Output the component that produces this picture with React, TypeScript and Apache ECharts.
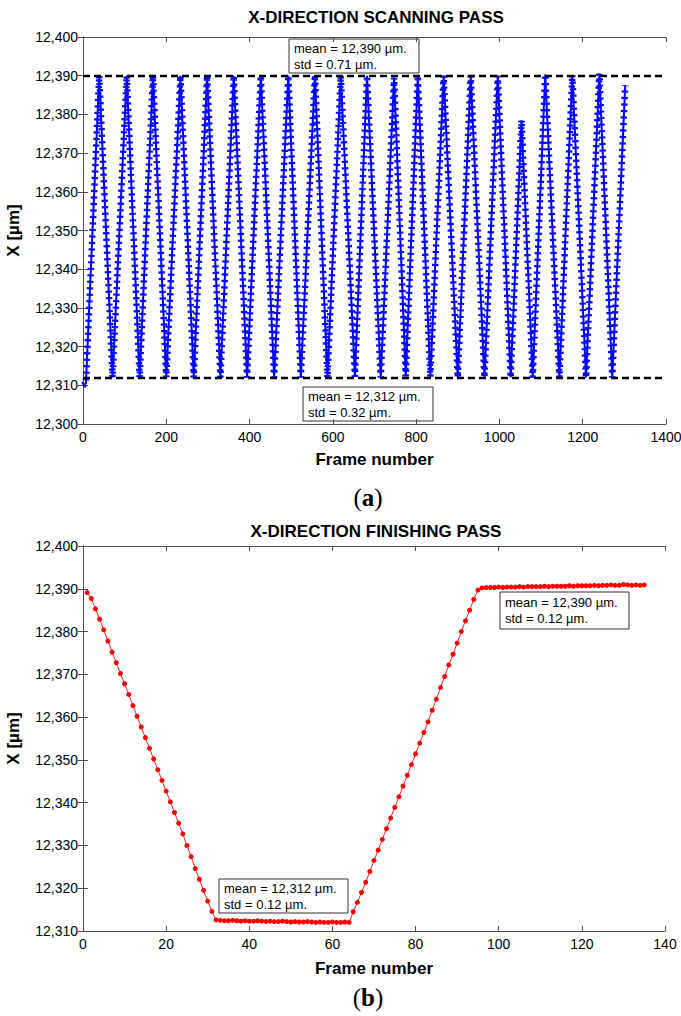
import React, { useEffect, useRef } from "react";
import * as echarts from "echarts";

// ---------- DATA ----------
// (a) scanning pass: turning points of the zig-zag trace (frame, X in µm)
const scanFrames = [
  0, 7, 39, 71, 105, 136, 168, 200, 234, 266, 298, 330, 362, 394, 427, 459,
  493, 523, 557, 587, 619, 653, 682, 715, 747, 775, 804, 834, 866, 900, 931,
  964, 996, 1027, 1053, 1080, 1110, 1144, 1175, 1208, 1240, 1271, 1302,
];
const scanValues = [
  12310, 12310.5, 12390, 12312, 12390, 12312, 12390, 12312, 12390, 12312,
  12390, 12312, 12390, 12312, 12390, 12312, 12390, 12312, 12390.2, 12312,
  12390, 12312.2, 12390, 12312, 12389.5, 12312.3, 12390, 12312.2, 12390,
  12312, 12390, 12312, 12390, 12312, 12378.5, 12312, 12390.3, 12312, 12390.2,
  12312, 12390.5, 12312, 12387.5,
];

// (b) finishing pass: one value per frame, frames 1..135
const finishValues = [
  12389.1, 12387.7, 12385.3, 12382.9, 12380.4, 12377.8, 12375.2, 12372.7,
  12370.2, 12367.8, 12365.3, 12362.7, 12360.2, 12357.7, 12355.2, 12352.7,
  12350.2, 12347.7, 12345.2, 12342.7, 12340.2, 12337.7, 12335.2, 12332.7,
  12330.0, 12327.4, 12324.6, 12322.1, 12319.5, 12317.0, 12314.6, 12312.6,
  // flat bottom 33..64
  12312.5, 12312.4, 12312.4, 12312.5, 12312.4, 12312.3, 12312.4, 12312.3,
  12312.3, 12312.4, 12312.3, 12312.2, 12312.3, 12312.2, 12312.2, 12312.3,
  12312.2, 12312.1, 12312.2, 12312.1, 12312.1, 12312.2, 12312.1, 12312.0,
  12312.1, 12312.0, 12312.0, 12312.1, 12312.0, 12312.0, 12312.1, 12312.0,
  // rising 65..95
  12314.5, 12316.7, 12319.0, 12321.4, 12323.9, 12326.5, 12328.9, 12331.4,
  12333.9, 12336.4, 12338.9, 12341.4, 12343.9, 12346.4, 12348.9, 12351.4,
  12353.9, 12356.4, 12358.9, 12361.6, 12364.2, 12366.9, 12369.5, 12372.2,
  12374.7, 12377.3, 12380.0, 12382.5, 12385.0, 12387.5, 12389.7,
  // flat top 96..135
  12390.2, 12390.3, 12390.3, 12390.3, 12390.4, 12390.3, 12390.4, 12390.4,
  12390.4, 12390.5, 12390.4, 12390.5, 12390.5, 12390.5, 12390.5, 12390.6,
  12390.5, 12390.6, 12390.6, 12390.6, 12390.6, 12390.7, 12390.6, 12390.7,
  12390.7, 12390.7, 12390.7, 12390.8, 12390.7, 12390.8, 12390.8, 12390.9,
  12390.8, 12390.8, 12391.0, 12390.9, 12390.8, 12390.9, 12390.8, 12390.9,
];

const scanMeans = [12390, 12312];
const scanTitle = "X-DIRECTION SCANNING PASS";
const finishTitle = "X-DIRECTION FINISHING PASS";
const boxTexts = {
  scanTop: ["mean = 12,390 µm.", "std = 0.71 µm."],
  scanBottom: ["mean = 12,312 µm.", "std = 0.32 µm."],
  finishTop: ["mean = 12,390 µm.", "std = 0.12 µm."],
  finishBottom: ["mean = 12,312 µm.", "std = 0.12 µm."],
};

// ---------- STYLE ----------
const FONT = "'Liberation Sans', Arial, sans-serif";
const SERIF = "'Liberation Serif', 'DejaVu Serif', serif";
const AXIS_COLOR = "#4d4d4d";

const fmtY = (v: number) => Math.round(v).toLocaleString("en-US");
const fmtX = (v: number) => String(Math.round(v));

function axesFor(
  gridIndex: number,
  xMin: number,
  xMax: number,
  xInt: number,
  yMin: number,
  yMax: number,
  yInt: number,
  xNameGap: number
) {
  const tick = { show: true, inside: true, length: 5, lineStyle: { color: AXIS_COLOR } };
  const line = { show: true, lineStyle: { color: AXIS_COLOR, width: 1 } };
  const xs = [
    {
      type: "value",
      gridIndex,
      position: "bottom",
      min: xMin,
      max: xMax,
      interval: xInt,
      axisLine: line,
      axisTick: tick,
      splitLine: { show: false },
      axisLabel: { color: "#000", fontSize: 14, fontFamily: FONT, margin: 6, formatter: fmtX },
      name: "Frame number",
      nameLocation: "middle",
      nameGap: xNameGap,
      nameTextStyle: { color: "#000", fontSize: 17, fontWeight: "bold", fontFamily: FONT },
    },
    {
      type: "value",
      gridIndex,
      position: "top",
      min: xMin,
      max: xMax,
      interval: xInt,
      axisLine: line,
      axisTick: tick,
      splitLine: { show: false },
      axisLabel: { show: false },
    },
  ];
  const ys = [
    {
      type: "value",
      gridIndex,
      position: "left",
      min: yMin,
      max: yMax,
      interval: yInt,
      axisLine: line,
      axisTick: tick,
      splitLine: { show: false },
      axisLabel: {
        color: "#000",
        fontSize: 14,
        fontFamily: FONT,
        margin: 5,
        formatter: fmtY,
      },
      name: "X [µm]",
      nameLocation: "middle",
      nameGap: 61,
      nameTextStyle: { color: "#000", fontSize: 17, fontWeight: "bold", fontFamily: FONT },
    },
    {
      type: "value",
      gridIndex,
      position: "right",
      min: yMin,
      max: yMax,
      interval: yInt,
      axisLine: line,
      axisTick: tick,
      splitLine: { show: false },
      axisLabel: { show: false },
    },
  ];
  return { xs, ys };
}

function box(x: number, y: number, w: number, h: number, lines: string[], gap: number) {
  return {
    type: "group",
    x,
    y,
    z: 100,
    children: [
      {
        type: "rect",
        shape: { x: 0, y: 0, width: w, height: h },
        style: { fill: "#fff", stroke: "#333", lineWidth: 1 },
      },
      {
        type: "text",
        x: 5,
        y: h / 2 - gap / 2,
        style: {
          text: lines[0],
          fontSize: 13,
          fontFamily: FONT,
          fill: "#000",
          textVerticalAlign: "middle",
        },
      },
      {
        type: "text",
        x: 5,
        y: h / 2 + gap / 2,
        style: {
          text: lines[1],
          fontSize: 13,
          fontFamily: FONT,
          fill: "#000",
          textVerticalAlign: "middle",
        },
      },
    ],
  };
}

function captionText(y: number, letter: string) {
  return {
    type: "text",
    x: 368,
    y,
    style: {
      text: `{p|(}{b|${letter}}{p|)}`,
      textAlign: "center",
      textVerticalAlign: "middle",
      rich: {
        p: { fontSize: 25, fontFamily: SERIF, fill: "#000" },
        b: { fontSize: 25, fontWeight: "bold", fontFamily: SERIF, fill: "#000" },
      },
    },
  };
}

export default function App() {
  const ref = useRef<HTMLDivElement>(null);

  useEffect(() => {
    if (!ref.current) return;
    const chart = echarts.init(ref.current, undefined, { renderer: "svg" });

    const a = axesFor(0, 0, 1400, 200, 12300, 12400, 10, 27);
    const b = axesFor(1, 0, 140, 20, 12310, 12400, 10, 29);

    const scanData = scanFrames.map((f, i) => [f, scanValues[i]]);
    const finishData = finishValues.map((v, i) => [i + 1, v]);

    const meanLine = (vals: number[]) => ({
      silent: true,
      symbol: ["none", "none"],
      label: { show: false },
      lineStyle: { color: "#000", type: [7, 4], width: 2.4 },
      data: vals.map((v) => ({ yAxis: v })),
    });

    chart.setOption({
      animation: false,
      backgroundColor: "#fff",
      grid: [
        { left: 83, top: 37, width: 583, height: 387, outerBoundsMode: "none", containLabel: false },
        { left: 83, top: 546, width: 582, height: 385, outerBoundsMode: "none", containLabel: false },
      ],
      xAxis: [a.xs[0], a.xs[1], b.xs[0], b.xs[1]],
      yAxis: [a.ys[0], a.ys[1], b.ys[0], b.ys[1]],
      series: [
        {
          type: "line",
          xAxisIndex: 0,
          yAxisIndex: 0,
          data: scanData,
          showSymbol: false,
          lineStyle: { color: "#0000ff", width: 2 },
        },
        {
          type: "line",
          xAxisIndex: 0,
          yAxisIndex: 0,
          data: scanData,
          showSymbol: false,
          lineStyle: { color: "#0a0aff", width: 6.5, type: [2.2, 4.3] },
          markLine: meanLine(scanMeans),
        },
        {
          type: "line",
          xAxisIndex: 2,
          yAxisIndex: 2,
          data: finishData,
          symbol: "circle",
          symbolSize: 5,
          itemStyle: { color: "#ff0000" },
          lineStyle: { color: "#ff2020", width: 1 },
        },
      ],
      graphic: [
        {
          type: "text",
          x: 376,
          y: 17,
          style: {
            text: scanTitle,
            fontSize: 17,
            fontWeight: "bold",
            fontFamily: FONT,
            fill: "#000",
            textAlign: "center",
            textVerticalAlign: "middle",
          },
        },
        {
          type: "text",
          x: 376,
          y: 531,
          style: {
            text: finishTitle,
            fontSize: 17,
            fontWeight: "bold",
            fontFamily: FONT,
            fill: "#000",
            textAlign: "center",
            textVerticalAlign: "middle",
          },
        },
        box(289, 39, 130, 34, boxTexts.scanTop, 16),
        box(303, 387, 130, 34, boxTexts.scanBottom, 16),
        box(500, 592, 129, 37, boxTexts.finishTop, 16),
        box(219, 879, 129, 34, boxTexts.finishBottom, 16),
        captionText(497, "a"),
        captionText(997, "b"),
      ],
    });

    return () => chart.dispose();
  }, []);

  return (
    <div
      ref={ref}
      style={{ position: "absolute", left: 0, top: 0, width: 681, height: 1016, background: "#fff" }}
    />
  );
}
